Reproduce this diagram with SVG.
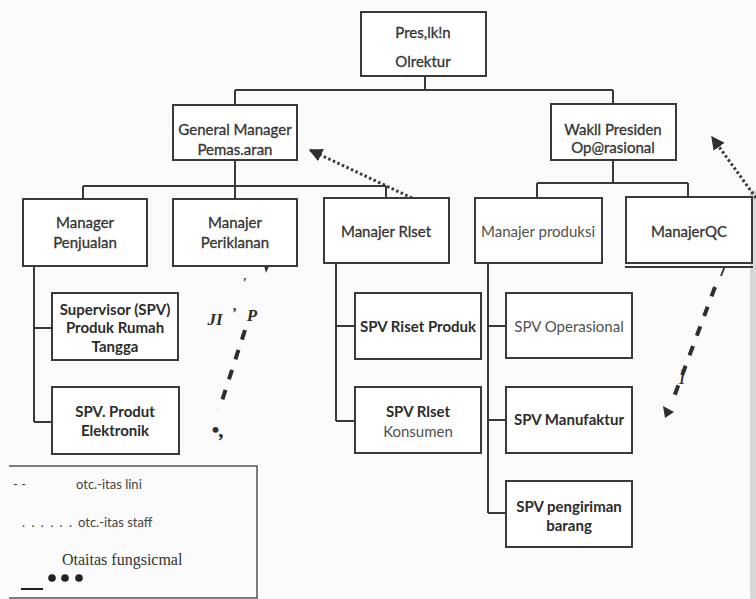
<svg xmlns="http://www.w3.org/2000/svg" width="756" height="599" viewBox="0 0 756 599">
  <defs>
    <style>
      .box { fill: #ffffff; stroke: #3a3a3a; stroke-width: 2; }
      .wire { fill: none; stroke: #3a3a3a; stroke-width: 2; }
      .lbl { font-family: Lato, "Open Sans", "Liberation Sans", sans-serif; font-size: 15px; fill: #333333; stroke: #333333; stroke-width: 0.3; text-anchor: middle; }
      .bold { font-weight: bold; fill: #2c2c2c; stroke: none; }
      .light { fill: #505050; stroke: none; }
      .staff { fill: none; stroke: #3a3a3a; stroke-width: 3; stroke-dasharray: 2.5 2.5; }
      .func { fill: none; stroke: #2e2e2e; stroke-width: 4; stroke-dasharray: 10 11; }
      .leg { font-family: Lato, "Open Sans", "Liberation Sans", sans-serif; font-size: 13px; fill: #444444; }
      .serif { font-family: "Liberation Serif", serif; font-style: italic; fill: #2e2e2e; }
    </style>
    <marker id="tri" viewBox="0 0 10 10" refX="9" refY="5" markerWidth="4.5" markerHeight="4.5" orient="auto-start-reverse" markerUnits="strokeWidth">
      <path d="M0,0 L10,5 L0,10 z" fill="#2e2e2e"/>
    </marker>
  </defs>

  <rect x="0" y="0" width="756" height="599" fill="#fbfbfb"/>
  <!-- page edge shadow -->
  <rect x="750" y="190" width="6" height="409" fill="#d8d8d8"/>

  <!-- connectors -->
  <g id="connectors">
    <path class="wire" d="M425,76 V90 M235,90 H613 M235,90 V105 M613,90 V104"/>
    <path class="wire" d="M235,160 V186 M83,186 H386 M83,186 V199 M235,186 V199 M386,186 V198"/>
    <path class="wire" d="M613,160 V183 M537,183 H688 M537,183 V198 M688,183 V197"/>
    <path class="wire" d="M34,266 V422 M34,328 H52 M34,422 H52"/>
    <path class="wire" d="M336,263 V421 M336,326 H355 M336,421 H355"/>
    <path class="wire" d="M488,263 V513 M488,326 H506 M488,420 H506 M488,513 H506"/>
    <!-- staff lines -->
    <path class="staff" d="M412,198 L310,150" marker-end="url(#tri)"/>
    <path class="staff" d="M756,198 L712,137" marker-end="url(#tri)"/>
    <!-- functional line from QC -->
    <path class="wire" d="M725,266 L721,276" stroke-width="2.5"/>
    <path class="func" d="M715,287 L671,405"/>
    <path d="M663,406 L674,412 L665,418 z" fill="#2e2e2e"/>
    <!-- functional line from Periklanan -->
    <path class="func" d="M245,330 L219,410"/>
    <path d="M263,262 L270,264 L266,273 z" fill="#2e2e2e"/>
  </g>

  <g id="n-presdir">
    <rect class="box" x="361" y="12" width="125" height="64"/>
    <text class="lbl" x="423" y="38">Pres,lk!n</text>
    <text class="lbl" x="423" y="67">Olrektur</text>
  </g>
  <g id="n-gm">
    <rect class="box" x="173" y="105" width="124" height="55"/>
    <text class="lbl" x="235" y="135">General Manager</text>
    <text class="lbl" x="235" y="155">Pemas.aran</text>
  </g>
  <g id="n-wakil">
    <rect class="box" x="551" y="104" width="125" height="56"/>
    <text class="lbl" x="613" y="135">Wakll Presiden</text>
    <text class="lbl" x="613" y="153">Op@rasional</text>
  </g>
  <g id="n-penjualan">
    <rect class="box" x="23" y="199" width="124" height="67"/>
    <text class="lbl" x="85" y="228">Manager</text>
    <text class="lbl" x="85" y="248">Penjualan</text>
  </g>
  <g id="n-periklanan">
    <rect class="box" x="173" y="199" width="124" height="67"/>
    <text class="lbl" x="235" y="228">Manajer</text>
    <text class="lbl" x="235" y="248">Periklanan</text>
  </g>
  <g id="n-riset">
    <rect class="box" x="324" y="198" width="125" height="65"/>
    <text class="lbl" x="386" y="237">Manajer Rlset</text>
  </g>
  <g id="n-produksi">
    <rect class="box" x="475" y="198" width="127" height="65"/>
    <text class="lbl light" x="538" y="237">Manajer produksi</text>
  </g>
  <g id="n-qc">
    <rect class="box" x="626" y="197" width="126" height="66"/>
    <path class="wire" d="M625,267 H753" stroke-width="2.5"/>
    <text class="lbl" x="689" y="237">ManajerQC</text>
  </g>

  <g id="n-spv-rumah">
    <rect class="box" x="52" y="293" width="126" height="67"/>
    <text class="lbl bold" x="115" y="315">Supervisor (SPV)</text>
    <text class="lbl bold" x="115" y="333">Produk Rumah</text>
    <text class="lbl bold" x="115" y="352">Tangga</text>
  </g>
  <g id="n-spv-elektronik">
    <rect class="box" x="52" y="387" width="127" height="67"/>
    <text class="lbl bold" x="115" y="417">SPV. Produt</text>
    <text class="lbl bold" x="115" y="436">Elektronik</text>
  </g>
  <g id="n-spv-riset-produk">
    <rect class="box" x="355" y="293" width="126" height="66"/>
    <text class="lbl bold" x="418" y="332">SPV Riset Produk</text>
  </g>
  <g id="n-spv-riset-konsumen">
    <rect class="box" x="355" y="387" width="126" height="66"/>
    <text class="lbl bold" x="418" y="417">SPV Rlset</text>
    <text class="lbl light" x="418" y="437">Konsumen</text>
  </g>
  <g id="n-spv-operasional">
    <rect class="box" x="506" y="293" width="126" height="65"/>
    <text class="lbl light" x="569" y="332">SPV Operasional</text>
  </g>
  <g id="n-spv-manufaktur">
    <rect class="box" x="506" y="387" width="126" height="66"/>
    <text class="lbl bold" x="569" y="425">SPV Manufaktur</text>
  </g>
  <g id="n-spv-pengiriman">
    <rect class="box" x="506" y="481" width="126" height="66"/>
    <text class="lbl bold" x="569" y="512">SPV pengiriman</text>
    <text class="lbl bold" x="569" y="531">barang</text>
  </g>

  <!-- stray scan marks along the functional lines -->
  <g id="marks">
    <text class="serif" x="682" y="384" font-size="20" text-anchor="middle">I</text>
    <text class="serif" x="215" y="325" font-size="17" font-weight="bold" text-anchor="middle">JI</text>
    <text class="serif" x="234" y="318" font-size="15" font-weight="bold" text-anchor="middle">’</text>
    <text class="serif" x="252" y="321" font-size="17" font-weight="bold" text-anchor="middle">P</text>
    <text class="serif" x="244" y="288" font-size="15" font-weight="bold" text-anchor="middle">'</text>
    <text class="serif" x="218" y="437" font-size="22" font-weight="bold" text-anchor="middle">•,</text>
  </g>

  <g id="legend">
    <path d="M9,466 H257 V598 H9" fill="none" stroke="#555555" stroke-width="1.5"/>
    <text class="leg" x="13" y="489">- -</text>
    <text class="leg" x="76" y="489">otc.-itas lini</text>
    <text class="leg" x="22" y="527" letter-spacing="1.5">. . . . . .</text>
    <text class="leg" x="78" y="527">otc.-itas staff</text>
    <text x="62" y="565" font-family="Liberation Serif, serif" font-size="16" fill="#333333">Otaitas fungsicmal</text>
    <circle cx="52" cy="578" r="3.8" fill="#222222"/>
    <circle cx="65" cy="578" r="3.8" fill="#222222"/>
    <circle cx="79" cy="578" r="3.8" fill="#222222"/>
    <path d="M21,589 H43" stroke="#222222" stroke-width="2"/>
  </g>
</svg>
